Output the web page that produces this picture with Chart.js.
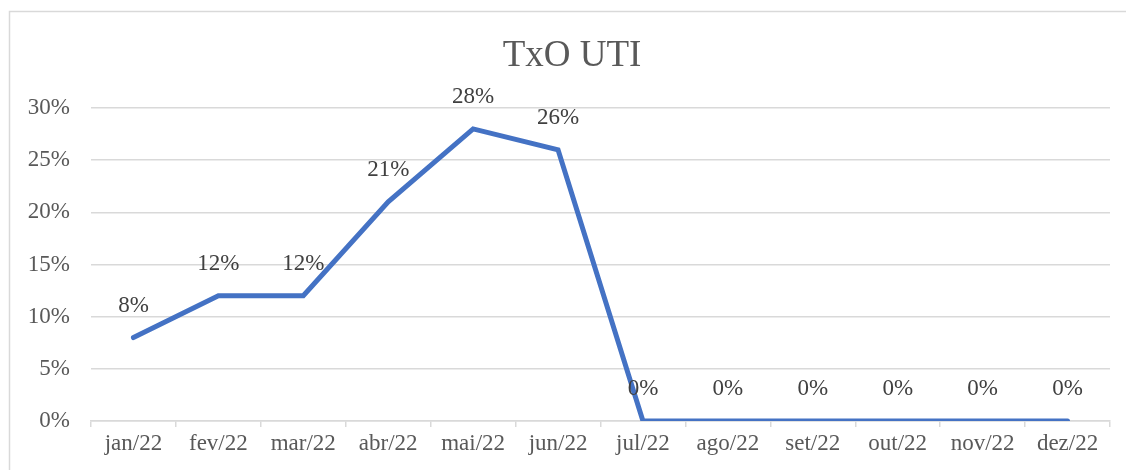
<!DOCTYPE html>
<html>
<head>
<meta charset="utf-8">
<script src="https://cdn.jsdelivr.net/npm/chart.js@4"></script>
<style>
  html, body { margin: 0; padding: 0; background: #fff; }
  #wrap { width: 1126px; height: 470px; }
</style>
</head>
<body>
<div id="wrap"><canvas id="myChart" width="1126" height="470"></canvas></div>
<script>
const months = ['jan/22', 'fev/22', 'mar/22', 'abr/22', 'mai/22', 'jun/22',
                'jul/22', 'ago/22', 'set/22', 'out/22', 'nov/22', 'dez/22'];
const txoUti = [8, 12, 12, 21, 28, 26, 0, 0, 0, 0, 0, 0];
const yTicks = [0, 5, 10, 15, 20, 25, 30];
const chartTitle = 'TxO UTI';

const serif = 'Liberation Serif, Times New Roman, serif';

// light frame + title, centred on the frame rather than the canvas
const framePlugin = {
  id: 'frame',
  beforeDraw(chart) {
    const ctx = chart.ctx;
    ctx.save();
    ctx.strokeStyle = '#d9d9d9';
    ctx.lineWidth = 1.5;
    ctx.beginPath();
    ctx.moveTo(9.5, chart.height);
    ctx.lineTo(9.5, 11.5);
    ctx.lineTo(chart.width, 11.5);
    ctx.stroke();

    ctx.font = '37px ' + serif;
    ctx.fillStyle = '#595959';
    ctx.textAlign = 'center';
    ctx.textBaseline = 'middle';
    ctx.fillText(chartTitle, 572, 56);
    ctx.restore();
  }
};

// value labels above each point
const valueLabels = {
  id: 'valueLabels',
  afterDatasetsDraw(chart) {
    const ctx = chart.ctx;
    const meta = chart.getDatasetMeta(0);
    ctx.save();
    ctx.font = '23px ' + serif;
    ctx.fillStyle = '#404040';
    ctx.textAlign = 'center';
    ctx.textBaseline = 'middle';
    meta.data.forEach((pt, i) => {
      ctx.fillText(txoUti[i] + '%', pt.x, pt.y - 32);
    });
    ctx.restore();
  }
};

new Chart(document.getElementById('myChart').getContext('2d'), {
  type: 'line',
  data: {
    labels: months,
    datasets: [{
      label: 'TxO UTI',
      data: txoUti,
      borderColor: '#4472c4',
      borderWidth: 5,
      borderCapStyle: 'round',
      borderJoinStyle: 'miter',
      pointRadius: 0,
      pointHoverRadius: 0,
      tension: 0,
      fill: false
    }]
  },
  options: {
    responsive: false,
    animation: false,
    layout: { padding: { left: 0, right: 16, top: 108, bottom: 0 } },
    plugins: {
      legend: { display: false },
      tooltip: { enabled: false },
      title: { display: false }
    },
    scales: {
      x: {
        offset: true,
        grid: {
          offset: true,
          drawOnChartArea: false,
          drawTicks: true,
          tickLength: 6,
          color: '#d9d9d9',
          lineWidth: 1.5
        },
        border: { display: true, color: '#d9d9d9', width: 1.5 },
        ticks: {
          color: '#595959',
          font: { family: serif, size: 23 },
          padding: 3,
          maxRotation: 0,
          autoSkip: false
        },
        afterFit(scale) { scale.height = 49; }
      },
      y: {
        min: 0,
        max: 30,
        afterBuildTicks(scale) { scale.ticks = yTicks.map(v => ({ value: v })); },
        grid: { color: '#d9d9d9', lineWidth: 1.5, drawTicks: false },
        border: { display: false },
        ticks: {
          color: '#595959',
          font: { family: serif, size: 23 },
          padding: 21,
          callback: v => v + '%'
        },
        afterFit(scale) { scale.width = 91; }
      }
    }
  },
  plugins: [framePlugin, valueLabels]
});
</script>
</body>
</html>
